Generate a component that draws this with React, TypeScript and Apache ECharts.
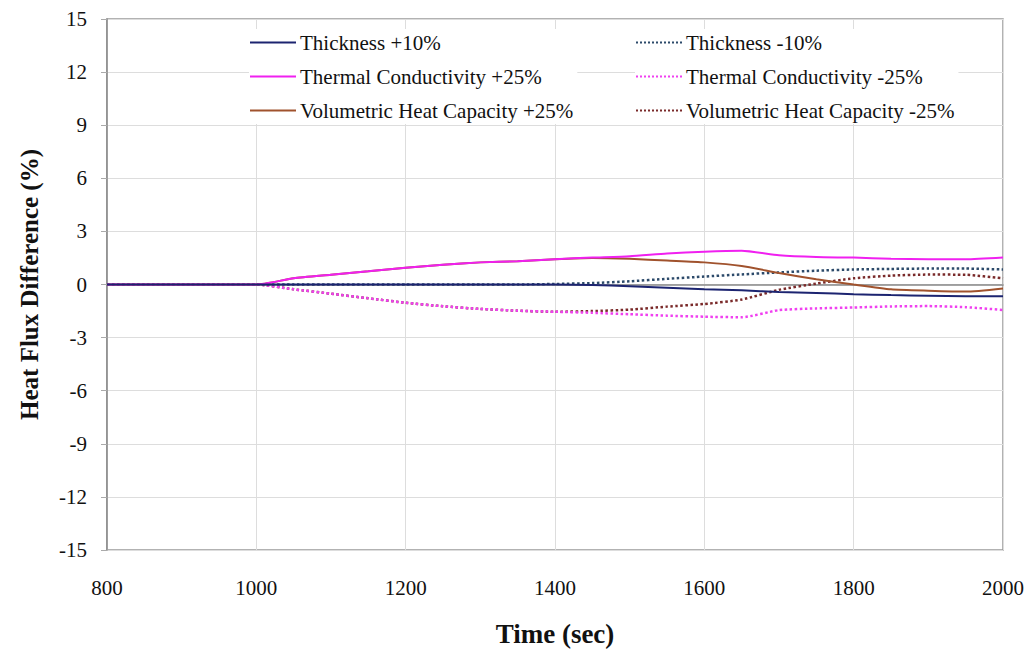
import React, { useEffect, useRef } from "react";
import * as echarts from "echarts";

const times = [800, 850, 900, 950, 1000, 1050, 1100, 1150, 1200, 1250, 1300, 1350, 1400, 1450, 1500, 1550, 1600, 1650, 1700, 1750, 1800, 1850, 1900, 1950, 2000];

const thickPlus10 = [0, 0, 0, 0, 0, 0, 0, 0, 0, 0, 0, 0, 0, -0.03, -0.1, -0.18, -0.27, -0.33, -0.42, -0.48, -0.55, -0.6, -0.63, -0.66, -0.67];
const condPlus25 = [0, 0, 0, 0, 0, 0.35, 0.55, 0.75, 0.95, 1.12, 1.25, 1.32, 1.43, 1.52, 1.6, 1.75, 1.85, 1.9, 1.65, 1.55, 1.52, 1.45, 1.43, 1.42, 1.52];
const heatPlus25 = [0, 0, 0, 0, 0, 0.35, 0.55, 0.75, 0.95, 1.12, 1.25, 1.32, 1.43, 1.5, 1.45, 1.35, 1.25, 1.05, 0.65, 0.3, 0.0, -0.27, -0.35, -0.4, -0.22];
const thickMinus10 = [0, 0, 0, 0, 0, 0, 0, 0, 0, 0, 0, 0, 0.03, 0.08, 0.18, 0.32, 0.45, 0.57, 0.68, 0.78, 0.85, 0.88, 0.9, 0.9, 0.85];
const condMinus25 = [0, 0, 0, 0, 0, -0.27, -0.52, -0.78, -1.03, -1.23, -1.38, -1.48, -1.54, -1.6, -1.68, -1.76, -1.82, -1.85, -1.45, -1.35, -1.3, -1.24, -1.22, -1.28, -1.44];
const heatMinus25 = [0, 0, 0, 0, 0, -0.27, -0.52, -0.78, -1.03, -1.23, -1.38, -1.48, -1.54, -1.5, -1.42, -1.25, -1.1, -0.85, -0.3, 0.05, 0.35, 0.5, 0.56, 0.55, 0.35];

const seriesNames = [
  "Thickness +10%",
  "Thermal Conductivity +25%",
  "Volumetric Heat Capacity +25%",
  "Thickness -10%",
  "Thermal Conductivity -25%",
  "Volumetric Heat Capacity -25%",
];
const seriesValues = [thickPlus10, condPlus25, heatPlus25, thickMinus10, condMinus25, heatMinus25];
const seriesColors = ["#1c2470", "#f020f0", "#a0522d", "#2c4a6a", "#f040f0", "#7a2a2a"];
const seriesDash = ["solid", "solid", "solid", "dotted", "dotted", "dotted"];

const FONT = "Liberation Serif";

export default function App() {
  const ref = useRef<HTMLDivElement>(null);
  useEffect(() => {
    if (!ref.current) return;
    const chart = echarts.init(ref.current, null, { renderer: "svg" });
    const series = seriesNames.map((name, i) => ({
      name,
      type: "line",
      data: times.map((t, j) => [t, seriesValues[i][j]]),
      symbol: "none",
      smooth: 0.2,
      lineStyle: { color: seriesColors[i], width: seriesDash[i] === "dotted" ? 2.5 : 2, type: seriesDash[i] },
      itemStyle: { color: seriesColors[i] },
      z: 10 - i,
    }));
    const legendBase = {
      orient: "vertical",
      itemWidth: 46,
      itemHeight: 14,
      itemGap: 11,
      itemStyle: { opacity: 0 },
      textStyle: { fontFamily: FONT, fontSize: 21, lineHeight: 23, color: "#111", padding: [0, 0, 0, -1] },
      backgroundColor: "#fff",
      padding: [2, 4, 2, 0],
    };
    chart.setOption({
      animation: false,
      backgroundColor: "#fff",
      grid: { left: 107, right: 31, top: 19, bottom: 102, show: true, borderColor: "#999", borderWidth: 1.5 },
      legend: [
        { ...legendBase, left: 249, top: 29, data: seriesNames.slice(0, 3) },
        { ...legendBase, left: 635, top: 29, data: seriesNames.slice(3) },
      ],
      xAxis: {
        type: "value",
        min: 800,
        max: 2000,
        interval: 200,
        name: "Time (sec)",
        nameLocation: "middle",
        nameGap: 70,
        nameTextStyle: { fontFamily: FONT, fontSize: 27, fontWeight: "bold", color: "#111" },
        axisLine: { lineStyle: { color: "#888", width: 1.5 } },
        axisTick: { show: false },
        axisLabel: { fontFamily: FONT, fontSize: 21, color: "#111", margin: 27, formatter: (v: number) => String(v) },
        splitLine: { show: true, lineStyle: { color: "#ddd", width: 1 } },
      },
      yAxis: {
        type: "value",
        min: -15,
        max: 15,
        interval: 3,
        name: "Heat Flux Difference (%)",
        nameLocation: "middle",
        nameGap: 65,
        nameTextStyle: { fontFamily: FONT, fontSize: 25, fontWeight: "bold", color: "#111" },
        axisLine: { show: true, lineStyle: { color: "#888", width: 1.5 } },
        axisTick: { show: true, length: 6, lineStyle: { color: "#aaa" } },
        axisLabel: { fontFamily: FONT, fontSize: 21, color: "#111", margin: 20 },
        splitLine: { show: true, lineStyle: { color: "#ddd", width: 1 } },
      },
      series,
    });
    return () => chart.dispose();
  }, []);
  return <div ref={ref} style={{ position: "fixed", left: 0, top: 0, width: 1034, height: 652 }} />;
}
